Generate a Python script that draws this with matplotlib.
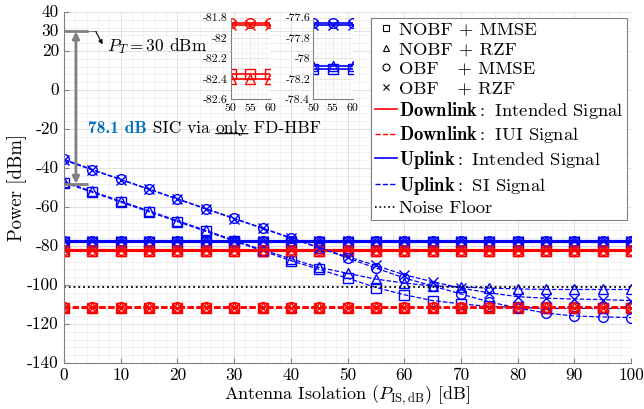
import numpy as np
import matplotlib
matplotlib.use('Agg')
import matplotlib.pyplot as plt
from matplotlib.lines import Line2D
from matplotlib.ticker import MultipleLocator, FixedLocator, FuncFormatter, NullFormatter

plt.rcParams['font.family'] = ['cmr10', 'DejaVu Serif']
plt.rcParams['mathtext.fontset'] = 'cm'
plt.rcParams['axes.unicode_minus'] = False
plt.rcParams['axes.formatter.use_mathtext'] = True

# antenna isolation [dB]
iso = [0, 5, 10, 15, 20, 25, 30, 35, 40, 45, 50, 55, 60, 65, 70, 75, 80, 85, 90, 95, 100]

schemes = ['NOBF + MMSE', 'NOBF + RZF', 'OBF   + MMSE', 'OBF   + RZF']
markers = ['s', '^', 'o', 'x']

# flat levels [dBm] per scheme
dl_intended = [-82.35, -82.4, -81.85, -81.87]
ul_intended = [-78.1, -78.07, -77.65, -77.67]
dl_iui = [-111.6, -111.5, -111.5, -111.6]
noise_floor = -101

# uplink SI signal [dBm]
si_nobf_mmse = [-47.5, -52.5, -57.5, -62.5, -67.5, -72.5, -77.5, -82.5, -87.5, -92, -96.5,
                -101.3, -105, -108, -109.7, -111, -111.5, -112, -112, -112, -112]
si_nobf_rzf = [-47, -52, -57, -62, -67, -72, -77, -82, -86.5, -91, -94,
               -97, -99, -100.5, -101, -101.6, -102, -102.3, -102.3, -102.3, -102.3]
si_obf_mmse = [-35.5, -40.8, -45.8, -50.8, -55.8, -60.8, -65.8, -70.8, -75.8, -80.8, -86.2,
               -91.3, -96.4, -100.5, -104.6, -108.7, -111.8, -114.4, -115.9, -116.4, -116.7]
si_obf_rzf = [-36, -41, -46, -51, -56, -61, -66, -71, -76, -81, -85.5,
              -90, -94.8, -98.3, -101.6, -104, -106, -106.8, -107.2, -107.5, -108]
si_all = [si_nobf_mmse, si_nobf_rzf, si_obf_mmse, si_obf_rzf]

y_ticks = [-140, -120, -100, -80, -60, -40, -20, 0, 20, 30, 40]

red = '#FF0000'
blue = '#0000FF'
gray = '#808080'

fig = plt.figure(figsize=(6.44, 4.09), dpi=100)
ax = fig.add_axes([0.0994, 0.1125, 0.8806, 0.8582])

x = np.array(iso)
for i in range(4):
    mk = dict(marker=markers[i], markersize=7, markerfacecolor='none', markeredgewidth=1.0)
    ax.plot(x, np.full(len(x), ul_intended[i]), '-', color=blue, lw=1.5, **mk)
    ax.plot(x, np.full(len(x), dl_intended[i]), '-', color=red, lw=1.5, **mk)
    ax.plot(x, si_all[i], '--', color=blue, lw=0.9, **mk)
    ax.plot(x, np.full(len(x), dl_iui[i]), '--', color=red, lw=1.2, **mk)
ax.plot([0, 100], [noise_floor, noise_floor], ':', color='black', lw=1.3)

ax.set_xlim(0, 100)
ax.set_ylim(-140, 40)
ax.xaxis.set_major_locator(MultipleLocator(10))
ax.xaxis.set_major_formatter(FuncFormatter(lambda v, p: '%d' % v))
ax.yaxis.set_major_locator(FixedLocator(y_ticks))
ax.yaxis.set_major_formatter(NullFormatter())
ax.xaxis.set_minor_locator(MultipleLocator(2))
ax.yaxis.set_minor_locator(MultipleLocator(4))
ax.grid(True, which='major', color='#dcdcdc', lw=0.6)
ax.grid(True, which='minor', color='#ececec', lw=0.5)
ax.tick_params(which='both', direction='in', labelsize=12.5, color=gray)
ax.tick_params(which='minor', length=0)
for s in ['top', 'right']:
    ax.spines[s].set_visible(False)
for s in ['left', 'bottom']:
    ax.spines[s].set_color(gray)

# y tick labels, drawn at figure level so nothing covers them
for v in y_ticks:
    fig.text(-0.009, v, str(v), transform=ax.get_yaxis_transform(), ha='right', va='center',
             fontsize=12.5, zorder=20)

ax.set_xlabel(r'Antenna Isolation ($P_{\rm IS,dB}$) [dB]', fontsize=13, labelpad=0)
ax.set_ylabel('Power [dBm]', fontsize=13.5)
ax.yaxis.set_label_coords(-0.066, 0.5)

# transmit power annotation
ax.plot([0, 4.2], [30, 30], color=gray, lw=2, solid_capstyle='butt')
ax.plot([0, 4.2], [-48.1, -48.1], color=gray, lw=2, solid_capstyle='butt')
ax.annotate('', xy=(2.1, -48.1), xytext=(2.1, 30),
            arrowprops=dict(arrowstyle='<|-|>', color=gray, lw=2, mutation_scale=10,
                            shrinkA=0, shrinkB=0))
ax.plot([4.2, 5.6], [30, 30], color=gray, lw=0.8)
ax.annotate('', xy=(6.8, 23.4), xytext=(5.6, 30),
            arrowprops=dict(arrowstyle='-|>', color='black', lw=0.8, mutation_scale=6,
                            shrinkA=0, shrinkB=0))
ax.text(7.6, 22.5, r'$P_T = 30$ dBm', fontsize=12.5, va='center', ha='left')

t1 = ax.text(4.3, -19.5, '78.1 dB', fontsize=12.5, color='#0072BD', fontfamily='cmb10',
             va='center', ha='left')
t2 = ax.annotate(' SIC via ', xy=(1, 0), xycoords=t1, va='bottom', ha='left', fontsize=12.5)
t3 = ax.annotate('only', xy=(1, 0), xycoords=t2, va='bottom', ha='left', fontsize=12.5)
ax.annotate(' FD-HBF', xy=(1, 0), xycoords=t3, va='bottom', ha='left', fontsize=12.5)
ax.annotate('', xy=(1, 0.12), xycoords=t3, xytext=(0, 0.12), textcoords=t3,
            arrowprops=dict(arrowstyle='-', lw=0.8, color='black', shrinkA=0, shrinkB=0))

# legend
handles = [Line2D([], [], ls='none', marker=m, color='black', markerfacecolor='none',
                  markersize=5, markeredgewidth=0.8) for m in markers]
handles += [
    Line2D([], [], color=red, ls='-', lw=1.2),
    Line2D([], [], color=red, ls='--', lw=1.0),
    Line2D([], [], color=blue, ls='-', lw=1.2),
    Line2D([], [], color=blue, ls='--', lw=1.0),
    Line2D([], [], color='black', ls=':', lw=1.2),
]
labels = schemes + [r'$\mathbf{Downlink{:}}$ Intended Signal', r'$\mathbf{Downlink{:}}$ IUI Signal',
                    r'$\mathbf{Uplink{:}}$ Intended Signal', r'$\mathbf{Uplink{:}}$ SI Signal',
                    'Noise Floor']
leg = ax.legend(handles, labels, loc='upper right', bbox_to_anchor=(0.993, 0.983),
                borderaxespad=0, fontsize=13.4, handlelength=1.2, handletextpad=0.1,
                labelspacing=0.19, borderpad=0.2, fancybox=False, framealpha=1,
                edgecolor=gray)
leg.get_frame().set_linewidth(0.8)

# insets
inset_x = [50, 55, 60]
for (left, vals, col, ylo, yhi) in [(0.358, dl_intended, red, -82.6, -81.8),
                                    (0.486, ul_intended, blue, -78.4, -77.6)]:
    ia = fig.add_axes([left, 0.757, 0.0615, 0.2])
    for i in range(4):
        ia.plot(inset_x, [vals[i]] * 3, '-', color=col, lw=1.2, marker=markers[i],
                markersize=7, markerfacecolor='none', markeredgewidth=1.0)
    ia.set_xlim(50, 60)
    ia.set_ylim(ylo, yhi)
    ia.xaxis.set_major_locator(FixedLocator(inset_x))
    ia.xaxis.set_major_formatter(FuncFormatter(lambda v, p: '%d' % v))
    yv = list(np.round(np.arange(ylo, yhi + 0.01, 0.2), 1))
    ia.yaxis.set_major_locator(FixedLocator(yv))
    ia.yaxis.set_major_formatter(FuncFormatter(lambda v, p: '%g' % round(v, 1)))
    ia.xaxis.set_minor_locator(MultipleLocator(1))
    ia.yaxis.set_minor_locator(MultipleLocator(0.05))
    ia.grid(True, which='major', color='#dcdcdc', lw=0.5)
    ia.grid(True, which='minor', color='#ececec', lw=0.4)
    ia.tick_params(which='both', direction='in', labelsize=8.5, pad=2, length=0)
    ia.tick_params(axis='x', pad=3)
    for s in ['top', 'right']:
        ia.spines[s].set_visible(False)
    for s in ['left', 'bottom']:
        ia.spines[s].set_color(gray)
        ia.spines[s].set_linewidth(0.8)

fig.savefig('out.png', dpi=100)
